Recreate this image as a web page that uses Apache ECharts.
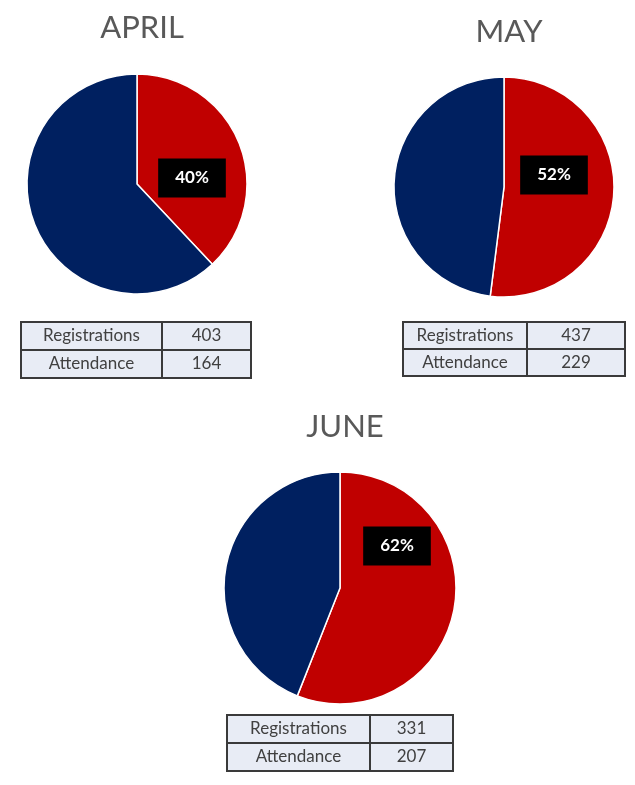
<!DOCTYPE html>
<html>
<head>
<meta charset="utf-8">
<script src="https://cdn.jsdelivr.net/npm/echarts@6/dist/echarts.min.js"></script>
<style>
html,body{margin:0;padding:0;background:#fff;}
#chart{width:635px;height:785px;}
</style>
</head>
<body>
<div id="chart"></div>
<script>
// ---- data ----
const months = ['APRIL', 'MAY', 'JUNE'];
const sliceNames = ['Attended', 'Did not attend'];
const aprilSlices = [38, 62];
const maySlices = [52, 48];
const juneSlices = [56, 44];
const pctLabels = ['40%', '52%', '62%'];
const rowLabels = ['Registrations', 'Attendance'];
const registrations = [403, 437, 331];
const attendance = [164, 229, 207];

// ---- layout (not data) ----
const slicesByMonth = [aprilSlices, maySlices, juneSlices];
const layout = [
  { cx: 137, cy: 184, r: 110, titleY: 23, labelOff: [55, -6],
    table: { x: 21, y: 322, w1: 141, w2: 89, h: 28 } },
  { cx: 504, cy: 187, r: 110, titleY: 27, labelOff: [50, -12],
    table: { x: 403, y: 322, w1: 124, w2: 98, h: 27 } },
  { cx: 340, cy: 588, r: 116, titleY: 422, labelOff: [57, -42],
    table: { x: 227, y: 715, w1: 143, w2: 83, h: 28 } }
];
const RED = '#C00000', NAVY = '#002060';

const series = [];
const titles = [];
const graphics = [];

months.forEach((m, i) => {
  const L = layout[i];
  titles.push({
    text: m, left: L.cx, top: L.titleY, textAlign: 'center', textVerticalAlign: 'middle',
    textStyle: { fontFamily: 'Lato', fontSize: 31, fontWeight: 'normal', color: '#595959' }
  });
  const vals = slicesByMonth[i];
  series.push({
    type: 'pie',
    center: [L.cx, L.cy],
    radius: [0, L.r],
    startAngle: 90,
    clockwise: true,
    silent: true,
    animation: false,
    labelLine: { show: false },
    itemStyle: { borderColor: '#ffffff', borderWidth: 1.5 },
    data: vals.map((v, k) => ({
      name: sliceNames[k],
      value: v,
      itemStyle: { color: k === 0 ? RED : NAVY },
      label: k === 0 ? {
        show: true,
        position: 'center',
        offset: L.labelOff,
        formatter: () => pctLabels[i],
        backgroundColor: '#000000',
        color: '#ffffff',
        fontFamily: 'Lato',
        fontWeight: 'bold',
        fontSize: 17,
        padding: [11, 17]
      } : { show: false }
    }))
  });

  // table
  const T = L.table;
  const vals2 = [registrations[i], attendance[i]];
  rowLabels.forEach((lab, r) => {
    const y = T.y + r * T.h;
    graphics.push({
      type: 'rect', shape: { x: T.x, y: y, width: T.w1, height: T.h },
      style: { fill: '#E8ECF5', stroke: '#3a3a3a', lineWidth: 2 }
    });
    graphics.push({
      type: 'rect', shape: { x: T.x + T.w1, y: y, width: T.w2, height: T.h },
      style: { fill: '#E8ECF5', stroke: '#3a3a3a', lineWidth: 2 }
    });
    graphics.push({
      type: 'text', x: T.x + T.w1 / 2, y: y + T.h / 2,
      style: { text: lab, fill: '#404040', font: '17px Lato', align: 'center', verticalAlign: 'middle' }
    });
    graphics.push({
      type: 'text', x: T.x + T.w1 + T.w2 / 2, y: y + T.h / 2,
      style: { text: String(vals2[r]), fill: '#404040', font: '17px Lato', align: 'center', verticalAlign: 'middle' }
    });
  });
});

const chart = echarts.init(document.getElementById('chart'), null, { renderer: 'canvas' });
chart.setOption({
  backgroundColor: '#ffffff',
  animation: false,
  title: titles,
  series: series,
  graphic: graphics
});
</script>
</body>
</html>
